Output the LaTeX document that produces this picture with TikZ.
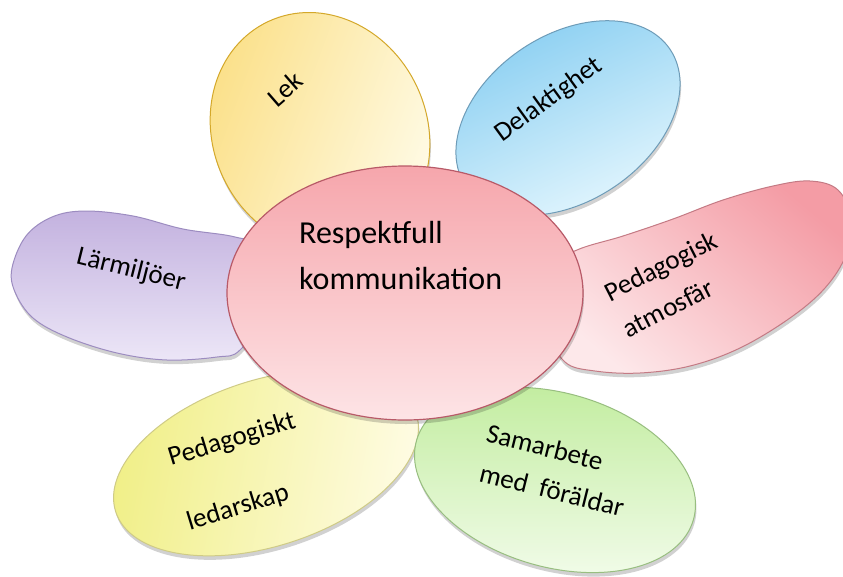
\documentclass[tikz,border=0pt]{standalone}
\usepackage{fontspec}
\setmainfont{Carlito}
\usetikzlibrary{shadows}
\definecolor{lekA}{HTML}{FBE089}
\definecolor{lekB}{HTML}{FFFCEA}
\definecolor{lekD}{HTML}{D4A82A}
\definecolor{delA}{HTML}{86CDF1}
\definecolor{delB}{HTML}{E8F8FE}
\definecolor{delD}{HTML}{6E9CB8}
\definecolor{larA}{HTML}{C3B2DF}
\definecolor{larB}{HTML}{ECE6F7}
\definecolor{larD}{HTML}{9C8CC0}
\definecolor{atmA}{HTML}{F49CA5}
\definecolor{atmB}{HTML}{FDE8EA}
\definecolor{atmD}{HTML}{C47A84}
\definecolor{ledA}{HTML}{F0EF86}
\definecolor{ledB}{HTML}{FFFCE6}
\definecolor{ledD}{HTML}{CFCB86}
\definecolor{samA}{HTML}{C0EC9C}
\definecolor{samB}{HTML}{F3FCEC}
\definecolor{samD}{HTML}{98BE80}
\definecolor{ctrA}{HTML}{F6A6AC}
\definecolor{ctrB}{HTML}{FDE4E6}
\definecolor{ctrD}{HTML}{B85A68}
\tikzset{
  petal/.style={line width=1pt,
    drop shadow={shadow xshift=1pt, shadow yshift=-4pt, opacity=0.18, fill=black}},
  lbl/.style={font=\fontsize{27}{30}\selectfont, inner sep=0pt, text=black},
  ctrlbl/.style={font=\fontsize{32}{46}\selectfont, inner sep=0pt, anchor=base west, text=black},
}
\begin{document}
\begin{tikzpicture}[x=1pt,y=-1pt]
\useasboundingbox (0,0) rectangle (843,576);
\clip (0,0) rectangle (843,576);
\fill[white] (0,0) rectangle (843,576);

% Lek petal
\path[petal, draw=lekD, top color=lekA, bottom color=lekB, shading angle=70,
  rotate around={25:(320,132)}] (320,132) ellipse [x radius=107, y radius=122];
% Delaktighet petal
\path[petal, draw=delD, top color=delA, bottom color=delB, shading angle=25,
  rotate around={34:(568,118)}] (568,118) ellipse [x radius=123, y radius=83];
% Larmiljoer petal
\path[petal, draw=larD, top color=larA, bottom color=larB, shading angle=0]
  plot[smooth cycle, tension=0.6] coordinates {(12,268) (26,236) (52,217) (85,211) (133,216) (183,229) (235,237) (262,250) (265,310) (240,350) (217,357) (167,360) (117,353) (67,337) (33,318) (15,292)};
% Pedagogisk atmosfar petal
\path[petal, draw=atmD, top color=atmA, bottom color=atmB, shading angle=-40]
  plot[smooth cycle, tension=0.6] coordinates {(552,268) (577,250) (623,236) (673,219) (723,200) (773,186) (810,181) (838,190) (852,220) (846,255) (825,288) (790,318) (740,348) (690,366) (640,373) (595,371) (565,362) (550,330)};
% Pedagogiskt ledarskap petal
\path[petal, draw=ledD, top color=ledA, bottom color=ledB, shading angle=80,
  rotate around={18:(266,463)}] (266,463) ellipse [x radius=158, y radius=83];
% Samarbete petal
\path[petal, draw=samD, top color=samA, bottom color=samB, shading angle=0,
  rotate around={-16:(555,480)}] (555,480) ellipse [x radius=144, y radius=87];
% Center
\path[petal, draw=ctrD, line width=1.2pt, top color=ctrA, bottom color=ctrB]
  (405,293) ellipse [x radius=178, y radius=127];

% Labels
\node[ctrlbl] (c1) at (299,243) {Respektfull};
\node[ctrlbl] (c2) at (299,289) {kommunikation};
\node[lbl, rotate=41] (lek) at (285,89) {Lek};
\node[lbl, rotate=36] (del) at (549,100) {Delaktighet};
\node[lbl, rotate=-14] (lar) at (131,270) {Lärmiljöer};
\node[lbl, rotate=27] (atm1) at (662,268) {Pedagogisk};
\node[lbl, rotate=27] (atm2) at (668,308) {atmosfär};
\node[lbl, rotate=17] (led1) at (232,440) {Pedagogiskt};
\node[lbl, rotate=17] (led2) at (238,508) {ledarskap};
\node[lbl, rotate=-14] (sam1) at (545,447) {Samarbete};
\node[lbl, rotate=-14] (sam2) at (552,490) {med\ \ föräldar};
\end{tikzpicture}
\end{document}
